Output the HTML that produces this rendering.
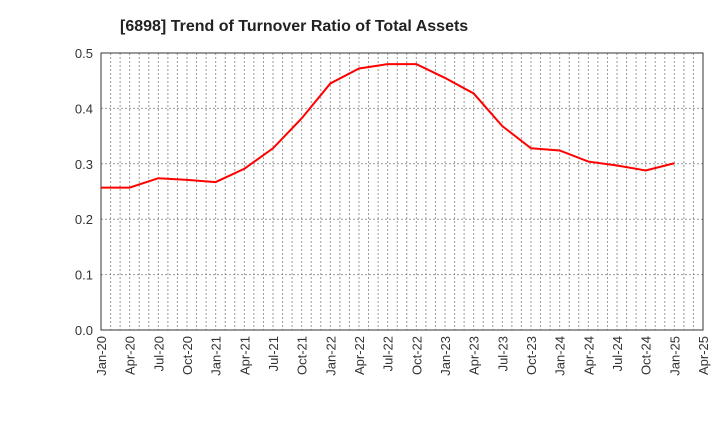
<!DOCTYPE html>
<html><head><meta charset="utf-8"><style>
body{margin:0;background:#fff;font-family:"Liberation Sans",sans-serif}
</style></head><body>
<svg id="c" width="720" height="440"></svg>
<script>
const categories=["Jan-20","Apr-20","Jul-20","Oct-20","Jan-21","Apr-21","Jul-21","Oct-21","Jan-22","Apr-22","Jul-22","Oct-22","Jan-23","Apr-23","Jul-23","Oct-23","Jan-24","Apr-24","Jul-24","Oct-24","Jan-25","Apr-25"];
const values=[0.257,0.257,0.274,0.271,0.267,0.291,0.328,0.382,0.445,0.472,0.480,0.480,0.455,0.427,0.368,0.328,0.324,0.304,0.297,0.288,0.301];
const yTicks=["0.0","0.1","0.2","0.3","0.4","0.5"];
const ns="http://www.w3.org/2000/svg",svg=document.getElementById('c');
const L=101,R=703,T=53,B=330;
const months=(categories.length-1)*3;
const x=m=>L+(R-L)*m/months;
const y=v=>B-(B-T)*v/0.5;
function mk(t,a,p){const e=document.createElementNS(ns,t);for(const k in a)e.setAttribute(k,a[k]);(p||svg).appendChild(e);return e;}
const title=mk('text',{x:120,y:31,'font-size':16,'font-weight':'bold',fill:'#222'});
title.textContent="[6898]  Trend of Turnover Ratio of Total Assets";


for(let m=1;m<months;m++){const g=mk('line',{x1:x(m),x2:x(m),y1:T,y2:B,stroke:'#999','stroke-dasharray':'2,2','stroke-width':1});

}
yTicks.forEach(t=>{const v=parseFloat(t);
if(v>0&&v<0.5){const g=mk('line',{x1:L,x2:R,y1:y(v),y2:y(v),stroke:'#999','stroke-dasharray':'2,2'});

}
const tx=mk('text',{x:L-8,y:y(v)+5,'font-size':13,'text-anchor':'end',fill:'#333'});tx.textContent=t;

});
categories.forEach((c,i)=>{const xx=x(i*3);
const tx=mk('text',{transform:`translate(${xx+5},${B+6}) rotate(-90)`,'font-size':13,'text-anchor':'end',fill:'#333'});tx.textContent=c;

});
const fr=mk('rect',{x:L,y:T,width:R-L,height:B-T,fill:'none',stroke:'#333','stroke-width':1});


const pl=mk('polyline',{points:values.map((v,i)=>x(i*3)+','+y(v)).join(' '),fill:'none',stroke:'#f00','stroke-width':2});


</script>
</body></html>
